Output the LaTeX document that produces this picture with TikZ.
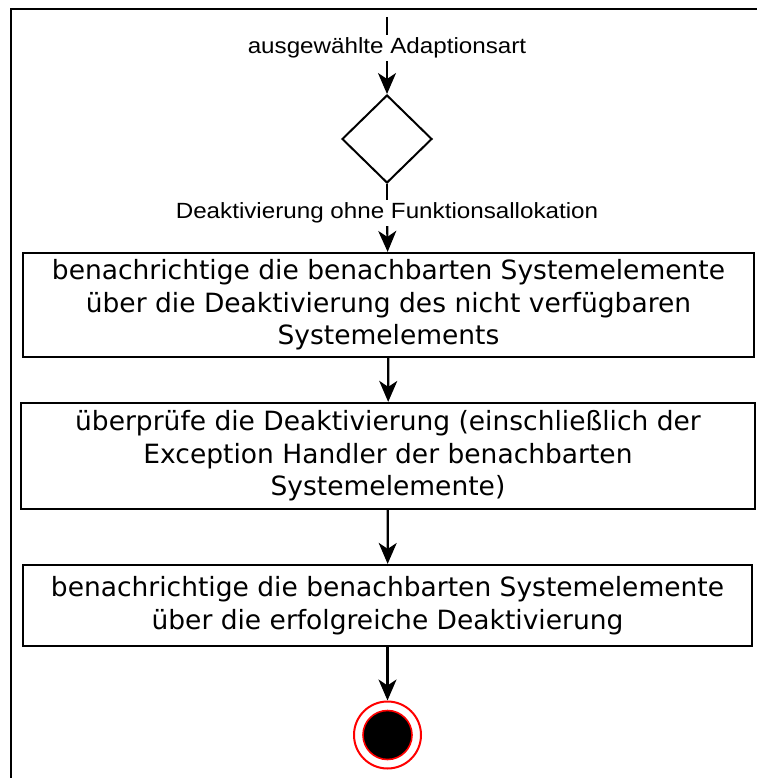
\documentclass[tikz,border=0pt]{standalone}
\usepackage{fontspec}
\usetikzlibrary{shapes.geometric,arrows.meta}
\newfontfamily\lblfont[FakeStretch=1.1]{Liberation Sans}
\newfontfamily\boxfont{DejaVu Sans}
\begin{document}
\begin{tikzpicture}[x=1pt,y=-1pt,
  frameline/.style={line width=2.6pt},
  flow/.style={line width=2.2pt,-{Stealth[length=21pt,width=18pt,inset=6pt]}},
  plainflow/.style={line width=2.2pt},
  guard/.style={fill=white,inner sep=0pt,minimum height=26pt,
    font=\lblfont\fontsize{22}{25}\selectfont,text height=16pt,text depth=4.5pt},
  actbox/.style={draw,line width=2.2pt,rectangle,inner sep=0pt,align=center,
    font=\boxfont\fontsize{26.5}{32.5}\selectfont},
  decision/.style={draw,line width=2pt,diamond,inner sep=0pt,
    minimum width=90pt,minimum height=88pt},
  finalring/.style={circle,draw=red,line width=2pt,fill=white,minimum size=67pt,inner sep=0pt},
  finaldot/.style={circle,draw=red,line width=1.6pt,fill=black,minimum size=49pt,inner sep=0pt}
]
\useasboundingbox (0,0) rectangle (757,778);

% surrounding frame (open at the right and bottom)
\draw[frameline] (11,778) -- (11,9) -- (757,9);

% nodes
\coordinate (start) at (387,17);
\node[guard] (lbl1) at (387,48) {ausgewählte Adaptionsart};
\node[decision] (dec) at (387,139) {};
\node[guard] (lbl2) at (387,213) {Deaktivierung ohne Funktionsallokation};

\node[actbox,minimum width=731pt,minimum height=104pt] (act1) at (388.5,305)
  {benachrichtige die benachbarten Systemelemente\\
   über die Deaktivierung des nicht verfügbaren\\
   Systemelements};
\node[actbox,minimum width=734pt,minimum height=106pt] (act2) at (388,456)
  {überprüfe die Deaktivierung (einschließlich der\\
   Exception Handler der benachbarten\\
   Systemelemente)};
\node[actbox,minimum width=729pt,minimum height=81pt] (act3) at (387.5,605.5)
  {benachrichtige die benachbarten Systemelemente\\
   über die erfolgreiche Deaktivierung};

\node[finalring] (final) at (387.5,735) {};
\node[finaldot] (finalcore) at (final.center) {};

% connectors
\draw[plainflow] (start) -- (lbl1);
\draw[flow] (lbl1) -- (dec.north);
\draw[plainflow] (dec.south) -- (lbl2);
\draw[flow] (lbl2) -- (act1);
\draw[flow] (act1) -- (act2);
\draw[flow] (act2) -- (act3);
\draw[flow] (act3.south -| final) -- (final);
\end{tikzpicture}
\end{document}
